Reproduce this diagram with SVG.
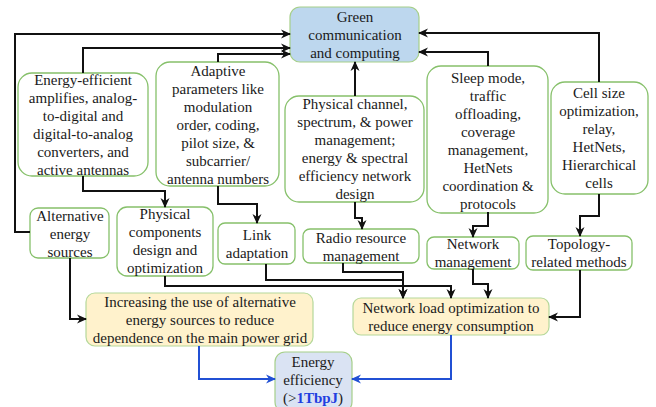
<svg xmlns="http://www.w3.org/2000/svg" width="656" height="407" viewBox="0 0 656 407" font-family="'Liberation Serif', serif" font-size="15">
  <style>
    text { font-family: 'Liberation Serif', serif; font-size: 15px; fill: #1a1a1a; text-anchor: middle; }
    .box { fill: #ffffff; stroke: #86c06a; stroke-width: 1.3; }
    .top { fill: #bdd7ee; stroke: #a6cf8a; stroke-width: 1.2; }
    .goal { fill: #fff2cc; stroke: #b5d89a; stroke-width: 1.2; }
    .eff { fill: #dae3f3; stroke: #a6cf8a; stroke-width: 1.2; }
    .wire { fill: none; stroke: #111111; stroke-width: 2; }
    .wire-blue { fill: none; stroke: #2150d4; stroke-width: 2; }
    .bold-blue { fill: #1f3fe0; font-weight: bold; }
  </style>
  <defs>
    <marker id="arrow" markerUnits="userSpaceOnUse" markerWidth="10" markerHeight="10" refX="9" refY="5" orient="auto">
      <path d="M0,0.5 L10,5 L0,9.5 L3,5 z" fill="#111111"/>
    </marker>
    <marker id="arrow-blue" markerUnits="userSpaceOnUse" markerWidth="10" markerHeight="10" refX="9" refY="5" orient="auto">
      <path d="M0,0.5 L10,5 L0,9.5 L3,5 z" fill="#2150d4"/>
    </marker>
  </defs>

  <g id="green-comm">
    <rect class="top" x="290" y="7" width="129" height="55" rx="10"/>
    <text x="355" y="22">Green</text>
    <text x="355" y="40">communication</text>
    <text x="355" y="58">and computing</text>
  </g>

  <g id="energy-efficient-hw">
    <rect class="box" x="18" y="73" width="130" height="103" rx="14"/>
    <text x="83" y="85">Energy-efficient</text>
    <text x="83" y="103">amplifies, analog-</text>
    <text x="83" y="121">to-digital and</text>
    <text x="83" y="139">digital-to-analog</text>
    <text x="83" y="157">converters, and</text>
    <text x="83" y="175">active antennas</text>
  </g>

  <g id="adaptive-params">
    <rect class="box" x="156" y="62" width="123" height="124" rx="14"/>
    <text x="218" y="76">Adaptive</text>
    <text x="218" y="94">parameters like</text>
    <text x="218" y="112">modulation</text>
    <text x="218" y="130">order, coding,</text>
    <text x="218" y="148">pilot size, &amp;</text>
    <text x="218" y="166">subcarrier/</text>
    <text x="218" y="184">antenna numbers</text>
  </g>

  <g id="physical-channel">
    <rect class="box" x="285" y="96" width="139" height="106" rx="14"/>
    <text x="355" y="109">Physical channel,</text>
    <text x="355" y="127">spectrum, &amp; power</text>
    <text x="355" y="145">management;</text>
    <text x="355" y="163">energy &amp; spectral</text>
    <text x="355" y="181">efficiency network</text>
    <text x="355" y="199">design</text>
  </g>

  <g id="sleep-mode">
    <rect class="box" x="427" y="66" width="121" height="147" rx="14"/>
    <text x="488" y="83">Sleep mode,</text>
    <text x="488" y="101">traffic</text>
    <text x="488" y="119">offloading,</text>
    <text x="488" y="137">coverage</text>
    <text x="488" y="155">management,</text>
    <text x="488" y="173">HetNets</text>
    <text x="488" y="191">coordination &amp;</text>
    <text x="488" y="209">protocols</text>
  </g>

  <g id="cell-size">
    <rect class="box" x="551" y="82" width="97" height="112" rx="14"/>
    <text x="599" y="98">Cell size</text>
    <text x="599" y="116">optimization,</text>
    <text x="599" y="134">relay,</text>
    <text x="599" y="152">HetNets,</text>
    <text x="599" y="170">Hierarchical</text>
    <text x="599" y="188">cells</text>
  </g>

  <g id="alt-energy">
    <rect class="box" x="30" y="208" width="79" height="50" rx="8"/>
    <text x="70" y="221">Alternative</text>
    <text x="70" y="239">energy</text>
    <text x="70" y="257">sources</text>
  </g>

  <g id="physical-components">
    <rect class="box" x="117" y="207" width="96" height="69" rx="10"/>
    <text x="165" y="219">Physical</text>
    <text x="165" y="237">components</text>
    <text x="165" y="255">design and</text>
    <text x="165" y="273">optimization</text>
  </g>

  <g id="link-adaptation">
    <rect class="box" x="218" y="223" width="77" height="41" rx="7"/>
    <text x="257" y="240">Link</text>
    <text x="257" y="258">adaptation</text>
  </g>

  <g id="radio-resource">
    <rect class="box" x="303" y="229" width="116" height="34" rx="7"/>
    <text x="361" y="243">Radio resource</text>
    <text x="361" y="261">management</text>
  </g>

  <g id="network-management">
    <rect class="box" x="427" y="237" width="92" height="32" rx="7"/>
    <text x="473" y="249">Network</text>
    <text x="473" y="267">management</text>
  </g>

  <g id="topology">
    <rect class="box" x="526" y="236" width="106" height="34" rx="7"/>
    <text x="579" y="249">Topology-</text>
    <text x="579" y="267">related methods</text>
  </g>

  <g id="alt-energy-goal">
    <rect class="goal" x="86" y="293" width="227" height="53" rx="9"/>
    <text x="200" y="307">Increasing the use of alternative</text>
    <text x="200" y="325">energy sources to reduce</text>
    <text x="200" y="343">dependence on the main power grid</text>
  </g>

  <g id="network-load-goal">
    <rect class="goal" x="353" y="298" width="196" height="37" rx="8"/>
    <text x="451" y="313">Network load optimization to</text>
    <text x="451" y="331">reduce energy consumption</text>
  </g>

  <g id="energy-efficiency">
    <rect class="eff" x="275" y="352" width="77" height="60" rx="10"/>
    <text x="313" y="367">Energy</text>
    <text x="313" y="385">efficiency</text>
    <text x="313" y="403">(&gt;<tspan class="bold-blue">1TbpJ</tspan>)</text>
  </g>

  <!-- connectors, drawn last so arrowheads sit on top of box borders -->
  <g id="connectors">
    <path class="wire" marker-end="url(#arrow)" d="M30,232 H15 V34 H290"/>
    <path class="wire" marker-end="url(#arrow)" d="M83,73 V48 H290"/>
    <path class="wire" marker-end="url(#arrow)" d="M218,62 V54 H290"/>
    <path class="wire" marker-end="url(#arrow)" d="M355,96 V62"/>
    <path class="wire" marker-end="url(#arrow)" d="M488,66 V52 H419"/>
    <path class="wire" marker-end="url(#arrow)" d="M599,82 V33 H419"/>
    <path class="wire" marker-end="url(#arrow)" d="M83,176 V191 H165 V207"/>
    <path class="wire" marker-end="url(#arrow)" d="M218,186 V204 H257 V223"/>
    <path class="wire" marker-end="url(#arrow)" d="M355,202 V218 H362 V229"/>
    <path class="wire" marker-end="url(#arrow)" d="M488,212 V226 H473 V237"/>
    <path class="wire" marker-end="url(#arrow)" d="M599,194 V216 H580 V236"/>
    <path class="wire" marker-end="url(#arrow)" d="M70,258 V319 H86"/>
    <path class="wire" marker-end="url(#arrow)" d="M266,264 V280 H403 V298"/>
    <path class="wire" marker-end="url(#arrow)" d="M343,263 V272 H403 V298"/>
    <path class="wire" marker-end="url(#arrow)" d="M165,276 V286 H451 V298"/>
    <path class="wire" marker-end="url(#arrow)" d="M473,269 V284 H488 V298"/>
    <path class="wire" marker-end="url(#arrow)" d="M580,270 V317 H549"/>
    <path class="wire-blue" marker-end="url(#arrow-blue)" d="M199,346 V379 H275"/>
    <path class="wire-blue" marker-end="url(#arrow-blue)" d="M451,335 V379 H352"/>
  </g>
</svg>
